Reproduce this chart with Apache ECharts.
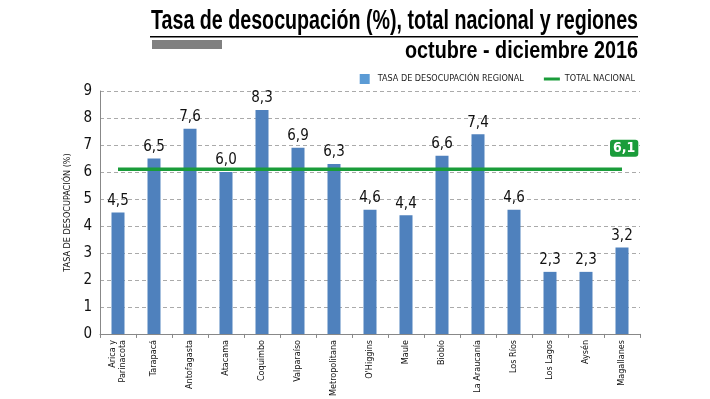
<!DOCTYPE html>
<html>
<head>
<meta charset="utf-8">
<script src="https://cdn.jsdelivr.net/npm/echarts@6/dist/echarts.min.js"></script>
<style>
  html, body { margin: 0; padding: 0; background: #fff; }
  #chart { width: 710px; height: 399px; }
</style>
</head>
<body>
<div id="chart"></div>
<script>
var regiones = ["Arica y\nParinacota", "Tarapacá", "Antofagasta", "Atacama", "Coquimbo", "Valparaíso",
  "Metropolitana", "O'Higgins", "Maule", "Biobío", "La Araucanía", "Los Ríos", "Los Lagos", "Aysén", "Magallanes"];
var tasaRegional = [4.5, 6.5, 7.6, 6.0, 8.3, 6.9, 6.3, 4.6, 4.4, 6.6, 7.4, 4.6, 2.3, 2.3, 3.2];
var totalNacional = 6.1;
var yTicks = [0, 1, 2, 3, 4, 5, 6, 7, 8, 9];

var narrow = "'DejaVu Sans Condensed', 'Liberation Sans Narrow', 'Roboto', sans-serif";
var fmt = function (v) { return v.toFixed(1).replace(".", ","); };

// squeeze a bold heading into a fixed width (the original uses a condensed face)
var ctx = document.createElement("canvas").getContext("2d");
function squeezed(text, font, x, y, width) {
  ctx.font = font;
  var w = ctx.measureText(text).width;
  return {
    type: "text", x: x, y: y, scaleX: width / w,
    style: { text: text, font: font, fill: "#000" }
  };
}
var titleFont = "bold 28px 'Liberation Sans', Arial, sans-serif";
var subFont = "bold 23px 'Liberation Sans', Arial, sans-serif";

var chart = echarts.init(document.getElementById("chart"));
chart.setOption({
  animation: false,
  textStyle: { fontFamily: narrow },
  graphic: [
    squeezed("Tasa de desocupación (%), total nacional y regiones", titleFont, 151, 7, 487),
    squeezed("octubre - diciembre 2016", subFont, 405, 40, 233),
    { type: "rect", shape: { x: 150, y: 36, width: 488, height: 1.5 }, style: { fill: "#000" } },
    { type: "rect", shape: { x: 152, y: 40, width: 70, height: 9 }, style: { fill: "#808080" } }
  ],
  legend: {
    right: 70, top: 69,
    itemGap: 20,
    itemWidth: 16, itemHeight: 10,
    textStyle: { fontFamily: narrow, fontSize: 9, color: "#222" },
    data: [
      { name: "TASA DE DESOCUPACIÓN REGIONAL", icon: "path://M0,0h10v10h-10z", itemStyle: { color: "#5b9bd5" } },
      { name: "TOTAL NACIONAL", icon: "path://M0,0h16v3h-16z", itemStyle: { color: "#1a9c3a" } }
    ]
  },
  grid: { left: 100, right: 70, top: 91, bottom: 63 },
  xAxis: {
    type: "category",
    data: regiones,
    axisLine: { lineStyle: { color: "#888" } },
    axisTick: { show: true, inside: false, length: 4, lineStyle: { color: "#888" } },
    axisLabel: {
      rotate: 90, interval: 0, margin: 6,
      fontFamily: narrow, fontSize: 9, color: "#111", lineHeight: 10
    }
  },
  yAxis: {
    type: "value",
    min: 0, max: 9, interval: 1,
    name: "TASA DE DESOCUPACIÓN (%)",
    nameLocation: "middle",
    nameGap: 28,
    nameTextStyle: { fontFamily: narrow, fontSize: 9, color: "#111" },
    axisLine: { show: true, lineStyle: { color: "#888" } },
    axisTick: { show: false },
    axisLabel: {
      fontFamily: narrow, fontSize: 15, color: "#111", margin: 8,
      formatter: function (v) { return yTicks.indexOf(v) >= 0 ? String(v) : ""; }
    },
    splitLine: { lineStyle: { color: "#aaa", type: [4, 3] } }
  },
  series: [
    {
      name: "TASA DE DESOCUPACIÓN REGIONAL",
      type: "bar",
      data: tasaRegional,
      barWidth: 13,
      itemStyle: { color: "#4f81bd" },
      label: {
        show: true, position: "top", distance: 4,
        fontFamily: narrow, fontSize: 15, color: "#111",
        formatter: function (p) { return fmt(p.value); }
      }
    },
    {
      name: "TOTAL NACIONAL",
      type: "line",
      data: regiones.map(function () { return totalNacional; }),
      symbol: "none",
      lineStyle: { color: "#1a9c3a", width: 3.5 },
      itemStyle: { color: "#1a9c3a" },
      endLabel: {
        show: true, offset: [-20, -21],
        backgroundColor: "#1a9c3a", borderRadius: 3, padding: [2, 3, 1, 3],
        color: "#fff", fontWeight: "bold", fontSize: 14, fontFamily: narrow,
        formatter: function (p) { return fmt(p.value); }
      },
      z: 5
    }
  ]
});
</script>
</body>
</html>
